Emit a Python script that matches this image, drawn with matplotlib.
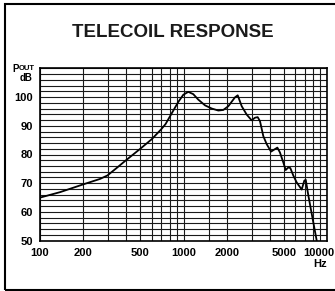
import matplotlib
matplotlib.use('Agg')
import matplotlib.pyplot as plt
from matplotlib.patches import Rectangle
from matplotlib.ticker import NullFormatter
from matplotlib.transforms import ScaledTranslation

plt.rcParams['font.family'] = ['Liberation Sans', 'DejaVu Sans']

# response curve (Hz, dB)
freq = [100, 138, 200, 262, 295, 342, 393, 497, 600, 700, 750, 827, 920, 997,
        1080, 1170, 1268, 1413, 1573, 1748, 1893, 2052, 2285, 2387, 2545, 2756,
        2985, 3148, 3288, 3412, 3599, 3800, 4074, 4345, 4510, 4700, 4963, 5155,
        5373, 5550, 5822, 6146, 6662, 6950, 7110, 7410, 7823, 8480]
level = [65.0, 66.9, 69.6, 71.5, 72.7, 75.3, 77.8, 81.9, 85.3, 88.8, 90.6, 94.3, 98.3, 100.8,
         101.8, 101.0, 99.1, 97.1, 96.0, 95.3, 95.5, 96.8, 99.9, 100.6, 96.8, 93.9,
         91.9, 92.8, 93.0, 91.6, 86.4, 83.6, 81.0, 81.9, 82.4, 80.7, 77.2, 74.6,
         75.5, 75.3, 72.7, 70.3, 67.8, 70.9, 71.2, 65.8, 59.4, 50.0]

x_ticks = [100, 200, 500, 1000, 2000, 5000, 10000]
x_labels = ['100', '200', '500', '1000', '2000', '5000', '10000']
y_ticks = [50, 60, 70, 80, 90, 100]
x_grid = list(range(100, 1000, 100)) + [1000, 1500] + list(range(2000, 10001, 1000))
y_grid = list(range(50, 111, 2))

fig = plt.figure(figsize=(3.35, 2.91), dpi=100)
ax = fig.add_axes([40 / 335, 1 - 240.7 / 291, 287 / 335, 172.4 / 291])

ax.set_xscale('log')
ax.set_xlim(100, 10000)
ax.set_ylim(50, 110)

ax.set_xticks(x_grid, minor=True)
ax.set_yticks(y_grid, minor=True)
ax.xaxis.set_minor_formatter(NullFormatter())
ax.set_xticks(x_ticks)
ax.set_xticklabels(x_labels, fontsize=8, fontweight='bold')
ax.set_yticks(y_ticks)
ax.set_yticklabels([str(v) for v in y_ticks], fontsize=8, fontweight='bold')
ax.tick_params(which='both', length=0)
ax.tick_params(axis='x', pad=5)
ax.tick_params(axis='y', pad=5)
ax.grid(which='both', color='#1a1a1a', linewidth=0.8)

# last label sits a little left of the axis end, as in the original
lbl = ax.get_xticklabels()[-1]
lbl.set_transform(lbl.get_transform() + ScaledTranslation(-8 / 100, 0, fig.dpi_scale_trans))

ax.plot(freq, level, color='black', linewidth=1.3)

for s in ax.spines.values():
    s.set_linewidth(1.2)
    s.set_color('black')

fig.text(0.516, 0.89, 'TELECOIL RESPONSE', fontsize=13.5, fontweight='bold',
         ha='center', va='center', color='#1a1a1a')
fig.text(19 / 335, 1 - 69 / 291, 'P', fontsize=7, fontweight='bold', ha='right', va='center')
fig.text(19 / 335, 1 - 69 / 291, 'OUT', fontsize=5.5, fontweight='bold', ha='left', va='center')
fig.text(32 / 335, 1 - 78 / 291, 'dB', fontsize=7, fontweight='bold', ha='right', va='center')
fig.text(327 / 335, 1 - 264 / 291, 'Hz', fontsize=8, fontweight='bold', ha='right', va='center')

fig.add_artist(Rectangle((5 / 335, 1 - 289.5 / 291), 1.0, 286 / 291,
                         transform=fig.transFigure, fill=False, edgecolor='black',
                         linewidth=1.5, clip_on=False))

fig.savefig('out.png', dpi=100)
